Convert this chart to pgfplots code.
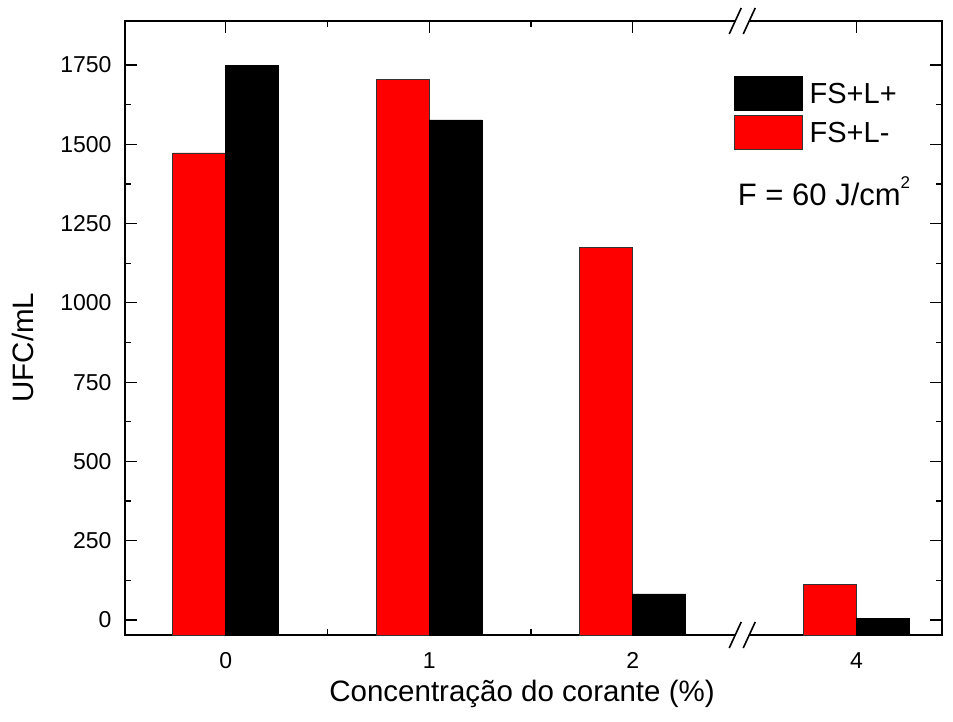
\documentclass[border=0pt]{standalone}
\usepackage{pgfplots}
\pgfplotsset{compat=1.18}
\usepackage{fontspec}
\setmainfont{Liberation Sans}
\begin{document}
\begin{tikzpicture}
\begin{axis}[
  scale only axis,
  width=817pt, height=614pt,
  xmin=-0.495, xmax=3.52,
  y coord trafo/.code={\pgfmathparse{#1+47.3}},
  y coord inv trafo/.code={\pgfmathparse{#1-47.3}},
  ymin=-47.3, ymax=1889,
  ybar, bar width=53pt,
  xtick={0,1,2,3.1}, xticklabels={0,1,2,4},
  minor xtick={-0.5,0.5,1.5},
  ytick={0,250,...,1750},
  yticklabels={0,250,500,750,1000,1250,1500,1750},
  minor ytick={125,375,...,1625},
  tick align=inside,
  major tick length=12pt, minor tick length=6pt,
  every tick/.style={black, line width=1.2pt},
  axis line style={line width=1.6pt},
  /pgf/number format/assume math mode=true,
  /pgf/number format/1000 sep={},
  tick label style={font=\fontsize{23}{27}\selectfont},
  xticklabel style={yshift=-14pt},
  yticklabel style={xshift=-10pt},
  xlabel={Concentração do corante (\%)},
  ylabel={UFC/mL},
  label style={font=\fontsize{29.5}{34}\selectfont},
  xlabel style={at={(axis description cs:0.486,-0.1075)}, anchor=base},
  ylabel style={at={(axis description cs:-0.1255,0.468)}, anchor=center},
  legend cell align=left,
  legend style={draw=none, fill=none, at={(rel axis cs:0.745,0.91)}, anchor=north west,
    font=\fontsize{29}{34}\selectfont, row sep=4pt, inner sep=0pt,
    /tikz/every even column/.append style={column sep=2pt}},
  legend image code/.code={\draw[#1, line width=0.8pt] (0pt,-17pt) rectangle (68pt,17pt);},
  reverse legend,
  clip=false,
]
\addplot[fill=red, draw=black!80, line width=0.8pt, bar shift=-26.5pt]
  coordinates {(0,1473) (1,1705) (2,1176) (3.1,113)};
\addlegendentry{\hspace{5pt}FS+L-}
\addplot[fill=black, draw=black, line width=0.8pt, bar shift=26.5pt]
  coordinates {(0,1750) (1,1577) (2,82) (3.1,5)};
\addlegendentry{\hspace{5pt}FS+L+}
\node[anchor=base west, inner sep=0pt, font=\fontsize{31}{36}\selectfont] at (rel axis cs:0.750,0.700) {F = 60 J/cm\raisebox{0.55em}{\fontsize{17}{20}\selectfont 2}};
\coordinate (bl) at (rel axis cs:0,0);
\coordinate (tr) at (rel axis cs:1,1);
% axis breaks
\fill[white] ([xshift=-7pt,yshift=-1.5pt]rel axis cs:0.7555,0) rectangle ([xshift=7pt,yshift=1.5pt]rel axis cs:0.7555,0);
\draw[line width=1.6pt] ([xshift=-13pt,yshift=-13pt]rel axis cs:0.7555,0) -- ([xshift=-1pt,yshift=13pt]rel axis cs:0.7555,0);
\draw[line width=1.6pt] ([xshift=1pt,yshift=-13pt]rel axis cs:0.7555,0) -- ([xshift=13pt,yshift=13pt]rel axis cs:0.7555,0);
\fill[white] ([xshift=-7pt,yshift=-1.5pt]rel axis cs:0.7555,1) rectangle ([xshift=7pt,yshift=1.5pt]rel axis cs:0.7555,1);
\draw[line width=1.6pt] ([xshift=-13pt,yshift=-13pt]rel axis cs:0.7555,1) -- ([xshift=-1pt,yshift=13pt]rel axis cs:0.7555,1);
\draw[line width=1.6pt] ([xshift=1pt,yshift=-13pt]rel axis cs:0.7555,1) -- ([xshift=13pt,yshift=13pt]rel axis cs:0.7555,1);
\end{axis}
\pgfresetboundingbox
\path ([xshift=-125pt,yshift=-87pt]bl) rectangle ([xshift=11pt,yshift=21pt]tr);
\end{tikzpicture}
\end{document}
